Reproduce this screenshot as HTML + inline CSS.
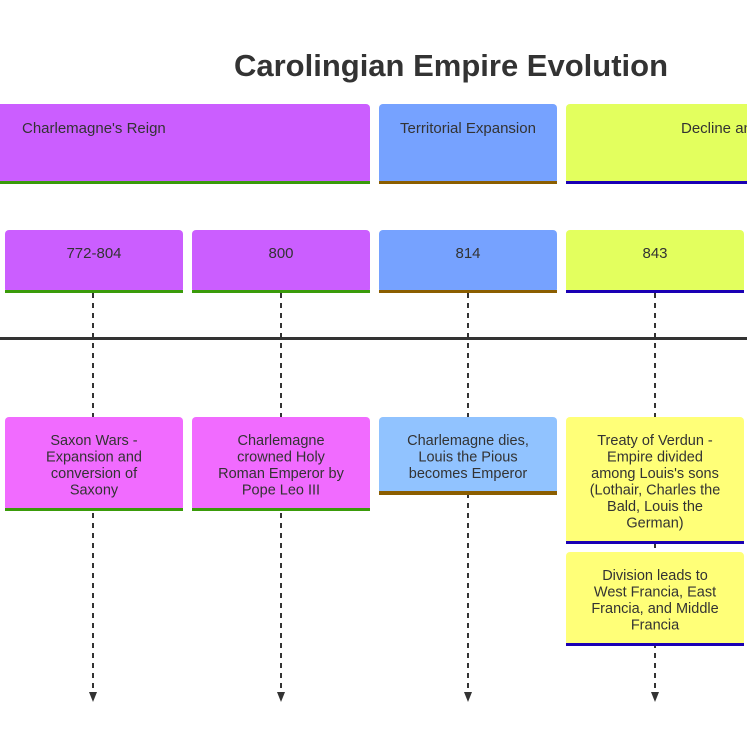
<!DOCTYPE html>
<html><head><meta charset="utf-8"><style>
html,body{margin:0;padding:0;background:#fff;width:747px;height:747px;overflow:hidden}
svg{display:block}
text{font-family:"Liberation Sans",sans-serif;fill:#333}
</style></head><body>
<svg width="747" height="747" viewBox="0 0 747 747" xmlns="http://www.w3.org/2000/svg">
<text x="451" y="76" text-anchor="middle" font-size="31" font-weight="bold">Carolingian Empire Evolution</text>
<!-- sections -->
<rect x="-10" y="104" width="380" height="80" rx="4" fill="#cb5eff"/>
<rect x="-10" y="181" width="380" height="3" fill="#3a9b0a"/>
<text x="22" y="133" font-size="15">Charlemagne's Reign</text>
<rect x="379" y="104" width="178" height="80" rx="4" fill="#76a2ff"/>
<rect x="379" y="181" width="178" height="3" fill="#8b5e00"/>
<text x="468" y="133" font-size="15" text-anchor="middle">Territorial Expansion</text>
<rect x="566" y="104" width="200" height="80" rx="4" fill="#e3ff5e"/>
<rect x="566" y="181" width="200" height="3" fill="#1a00b4"/>
<text x="681" y="133" font-size="15">Decline and Fragmentation</text>
<!-- dashed connectors -->
<g stroke="#333" stroke-width="2" stroke-dasharray="5,5" fill="none">
<line x1="93" y1="293" x2="93" y2="693"/>
<line x1="281" y1="293" x2="281" y2="693"/>
<line x1="468" y1="293" x2="468" y2="693"/>
<line x1="655" y1="293" x2="655" y2="693"/>
</g>
<g fill="#333">
<path d="M89,692 L97,692 L93,702 Z"/>
<path d="M277,692 L285,692 L281,702 Z"/>
<path d="M464,692 L472,692 L468,702 Z"/>
<path d="M651,692 L659,692 L655,702 Z"/>
</g>
<rect x="0" y="337" width="747" height="3" fill="#333"/>
<!-- periods -->
<rect x="5" y="230" width="178" height="63" rx="4" fill="#cb5eff"/><rect x="5" y="290" width="178" height="3" fill="#3a9b0a"/>
<text x="94" y="258" font-size="15" text-anchor="middle">772-804</text>
<rect x="192" y="230" width="178" height="63" rx="4" fill="#cb5eff"/><rect x="192" y="290" width="178" height="3" fill="#3a9b0a"/>
<text x="281" y="258" font-size="15" text-anchor="middle">800</text>
<rect x="379" y="230" width="178" height="63" rx="4" fill="#76a2ff"/><rect x="379" y="290" width="178" height="3" fill="#8b5e00"/>
<text x="468" y="258" font-size="15" text-anchor="middle">814</text>
<rect x="566" y="230" width="178" height="63" rx="4" fill="#e3ff5e"/><rect x="566" y="290" width="178" height="3" fill="#1a00b4"/>
<text x="655" y="258" font-size="15" text-anchor="middle">843</text>
<!-- events -->
<rect x="5" y="417" width="178" height="94" rx="4" fill="#f16bff"/><rect x="5" y="508" width="178" height="3" fill="#3a9b0a"/>
<text font-size="14.5" text-anchor="middle"><tspan x="94" y="445">Saxon Wars -</tspan><tspan x="94" y="461.5">Expansion and</tspan><tspan x="94" y="478">conversion of</tspan><tspan x="94" y="494.5">Saxony</tspan></text>
<rect x="192" y="417" width="178" height="94" rx="4" fill="#f16bff"/><rect x="192" y="508" width="178" height="3" fill="#3a9b0a"/>
<text font-size="14.5" text-anchor="middle"><tspan x="281" y="445">Charlemagne</tspan><tspan x="281" y="461.5">crowned Holy</tspan><tspan x="281" y="478">Roman Emperor by</tspan><tspan x="281" y="494.5">Pope Leo III</tspan></text>
<rect x="379" y="417" width="178" height="78" rx="4" fill="#91c3ff"/><rect x="379" y="491" width="178" height="4" fill="#8b5e00"/>
<text font-size="14.5" text-anchor="middle"><tspan x="468" y="445">Charlemagne dies,</tspan><tspan x="468" y="461.5">Louis the Pious</tspan><tspan x="468" y="478">becomes Emperor</tspan></text>
<rect x="566" y="417" width="178" height="127" rx="4" fill="#ffff78"/><rect x="566" y="541" width="178" height="3" fill="#1a00b4"/>
<text font-size="14.5" text-anchor="middle"><tspan x="655" y="445">Treaty of Verdun -</tspan><tspan x="655" y="461.5">Empire divided</tspan><tspan x="655" y="478">among Louis's sons</tspan><tspan x="655" y="494.5">(Lothair, Charles the</tspan><tspan x="655" y="511">Bald, Louis the</tspan><tspan x="655" y="527.5">German)</tspan></text>
<rect x="566" y="552" width="178" height="94" rx="4" fill="#ffff78"/><rect x="566" y="643" width="178" height="3" fill="#1a00b4"/>
<text font-size="14.5" text-anchor="middle"><tspan x="655" y="580">Division leads to</tspan><tspan x="655" y="596.5">West Francia, East</tspan><tspan x="655" y="613">Francia, and Middle</tspan><tspan x="655" y="629.5">Francia</tspan></text>
</svg>
</body></html>
